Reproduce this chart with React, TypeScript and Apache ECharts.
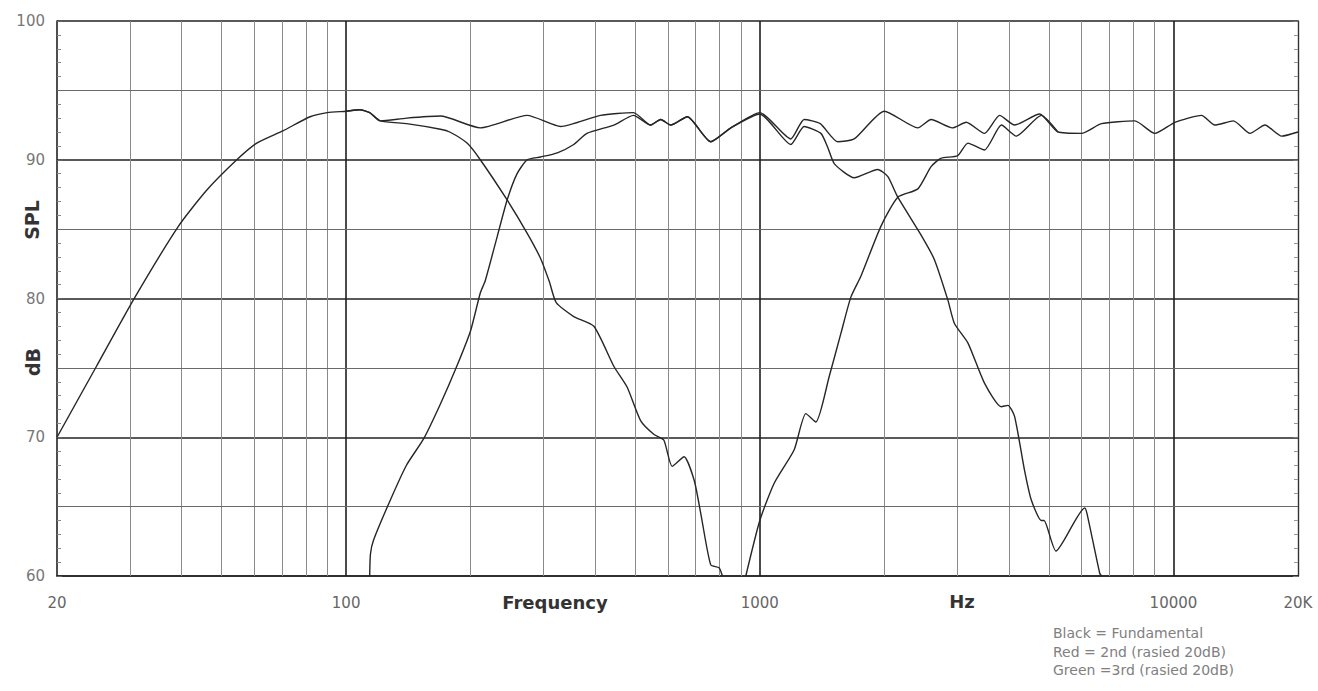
import React, { useEffect, useRef } from "react";
import * as echarts from "echarts";

// ---------- data ----------
const xTickLabels: Record<number, string> = { 20: "20", 100: "100", 1000: "1000", 10000: "10000", 20000: "20K" };
const yTickValues = [60, 70, 80, 90, 100];
const minorGridFreqs = [30, 40, 50, 60, 70, 80, 90, 200, 300, 400, 500, 600, 700, 800, 900, 2000, 3000, 4000, 5000, 6000, 7000, 8000, 9000];
const majorGridFreqs = [100, 1000, 10000];
const minorGridDb = [65, 75, 85, 95];

const wooferFreq = [20, 24.9, 30.6, 39.3, 46, 54.4, 60.8, 70.5, 81.8, 90, 100, 108, 114, 121, 140, 169, 178, 196, 211, 245, 274, 295, 310, 322, 355, 397, 444, 478, 515, 555, 586, 614, 656, 694, 720, 761, 797, 812];
const wooferDb = [70, 75.1, 79.9, 85.2, 87.8, 90, 91.2, 92.1, 93.1, 93.4, 93.5, 93.6, 93.4, 92.8, 92.6, 92.2, 92.0, 91.2, 90, 87.1, 84.7, 82.9, 81.2, 79.7, 78.7, 78.0, 75.1, 73.6, 71.2, 70.2, 69.8, 67.9, 68.6, 66.9, 64.5, 60.8, 60.6, 60];

const midFreq = [114, 114.5, 116.5, 128, 140, 154, 169, 185, 200, 211, 217, 232, 245, 259, 274, 295, 324, 355, 382, 444, 495, 544, 576, 609, 668, 761, 851, 1000, 1188, 1280, 1405, 1459, 1515, 1691, 1928, 2038, 2156, 2462, 2643, 2848, 2955, 3184, 3492, 3834, 3979, 4129, 4366, 4530, 4790, 4865, 5198, 6101, 6180, 6632, 6700];
const midDb = [60, 61.6, 62.6, 65.5, 68.0, 69.9, 72.4, 75.1, 77.7, 80.4, 81.3, 84.5, 87.1, 89.0, 90, 90.2, 90.5, 91.1, 91.9, 92.5, 93.2, 92.5, 92.9, 92.5, 93.1, 91.3, 92.3, 93.3, 91.1, 92.4, 91.9, 90.9, 89.7, 88.7, 89.3, 88.8, 87.3, 84.5, 82.8, 79.9, 78.2, 76.8, 73.9, 72.2, 72.3, 71.5, 67.6, 65.5, 64.0, 64.0, 61.8, 64.9, 64.5, 60.2, 60];

const tweeterFreq = [925, 1000, 1084, 1211, 1292, 1366, 1472, 1571, 1660, 1755, 1962, 2156, 2410, 2594, 2738, 3010, 3184, 3492, 3838, 4168, 4790, 5258];
const tweeterDb = [60, 64.0, 66.7, 69.1, 71.7, 71.1, 74.4, 77.5, 80.1, 81.6, 85.2, 87.3, 87.9, 89.5, 90.1, 90.3, 91.2, 90.7, 92.5, 91.7, 93.2, 92.0];

const sumFreq = [100, 108, 114, 121, 140, 169, 211, 274, 330, 412, 495, 544, 576, 609, 668, 761, 851, 1000, 1188, 1280, 1400, 1542, 1691, 2000, 2410, 2594, 2921, 3155, 3492, 3800, 4129, 4746, 5258, 5990, 6695, 8064, 9015, 10080, 11690, 12590, 13960, 15310, 16640, 18260, 20000];
const sumDb = [93.5, 93.6, 93.4, 92.8, 93.0, 93.15, 92.3, 93.2, 92.4, 93.2, 93.4, 92.5, 92.9, 92.5, 93.1, 91.3, 92.3, 93.4, 91.5, 92.9, 92.6, 91.3, 91.5, 93.5, 92.3, 92.9, 92.3, 92.7, 91.9, 93.2, 92.5, 93.3, 92.0, 91.9, 92.6, 92.8, 91.9, 92.7, 93.2, 92.5, 92.8, 91.9, 92.5, 91.7, 92.0];

const legendLines = ["Black = Fundamental", "Red = 2nd (rasied 20dB)", "Green =3rd (rasied 20dB)"];

const toPairs = (f: number[], d: number[]) => f.map((x, i) => [x, d[i]]);

export default function App() {
  const ref = useRef<HTMLDivElement>(null);
  useEffect(() => {
    document.body.style.margin = "0";
    const chart = echarts.init(ref.current!, null, { renderer: "svg" });
    const curveStyle = { color: "#262626", width: 1.4 };
    const curve = (name: string, f: number[], d: number[]) => ({
      name,
      type: "line",
      data: toPairs(f, d),
      showSymbol: false,
      symbol: "none",
      smooth: 0.2,
      z: 5,
      lineStyle: curveStyle,
    });
    const option = {
      animation: false,
      backgroundColor: "#ffffff",
      grid: { left: 57, right: 20, top: 21, bottom: 115 },
      xAxis: {
        type: "log",
        logBase: 10,
        min: 20,
        max: 20000,
        axisLine: { show: true, lineStyle: { color: "#222", width: 1.6 } },
        axisTick: { show: false },
        splitLine: { show: false },
        axisLabel: {
          showMinLabel: true,
          showMaxLabel: true,
          color: "#666",
          fontSize: 15,
          fontFamily: "DejaVu Sans",
          margin: 19,
          formatter: (v: number) => xTickLabels[Math.round(v)] ?? "",
        },
      },
      yAxis: [
        {
          type: "value",
          min: 60,
          max: 100,
          interval: 10,
          axisLine: { show: true, lineStyle: { color: "#222", width: 1.6 } },
          axisTick: { show: true, inside: true, length: 5, lineStyle: { color: "#666" } },
          minorTick: { show: true, splitNumber: 10, length: 4, lineStyle: { color: "#888" } },
          splitLine: { show: true, lineStyle: { color: "#222", width: 1.6 } },
          axisLabel: {
            color: "#777",
            fontSize: 15,
            fontFamily: "DejaVu Sans",
            margin: 12,
            formatter: (v: number) => (yTickValues.includes(v) ? String(v) : ""),
          },
        },
        {
          type: "value",
          position: "right",
          min: 60,
          max: 100,
          interval: 10,
          axisLine: { show: true, lineStyle: { color: "#333", width: 1.4 } },
          axisTick: { show: true, inside: true, length: 5, lineStyle: { color: "#777" } },
          minorTick: { show: true, splitNumber: 10, length: 4, lineStyle: { color: "#999" } },
          splitLine: { show: false },
          axisLabel: { show: false },
        },
      ],
      graphic: [
        { type: "text", x: 555, y: 602, style: { text: "Frequency", font: "bold 18px 'DejaVu Sans'", fill: "#333", textAlign: "center", textVerticalAlign: "middle" } },
        { type: "text", x: 962, y: 601, style: { text: "Hz", font: "bold 18px 'DejaVu Sans'", fill: "#333", textAlign: "center", textVerticalAlign: "middle" } },
        { type: "text", x: 32, y: 220, rotation: Math.PI / 2, style: { text: "SPL", font: "bold 19px 'DejaVu Sans'", fill: "#333", textAlign: "center", textVerticalAlign: "middle" } },
        { type: "text", x: 33, y: 362, rotation: Math.PI / 2, style: { text: "dB", font: "bold 19px 'DejaVu Sans'", fill: "#333", textAlign: "center", textVerticalAlign: "middle" } },
        ...legendLines.map((t, i) => ({
          type: "text",
          x: 1053,
          y: 633 + i * 18.5,
          style: { text: t, font: "14px 'DejaVu Sans'", fill: "#808080", textAlign: "left", textVerticalAlign: "middle" },
        })),
      ],
      series: [
        {
          name: "grid",
          type: "line",
          data: [],
          z: 1,
          silent: true,
          markLine: {
            silent: true,
            symbol: ["none", "none"],
            label: { show: false },
            animation: false,
            data: [
              ...minorGridFreqs.map((f) => ({ xAxis: f, lineStyle: { color: "#8a8a8a", width: 1, type: "solid" } })),
              ...majorGridFreqs.map((f) => ({ xAxis: f, lineStyle: { color: "#1e1e1e", width: 1.6, type: "solid" } })),
              ...minorGridDb.map((d) => ({ yAxis: d, lineStyle: { color: "#6a6a6a", width: 1.1, type: "solid" } })),
            ],
          },
        },
        curve("Sum", sumFreq, sumDb),
        curve("Woofer", wooferFreq, wooferDb),
        curve("Mid", midFreq, midDb),
        curve("Tweeter", tweeterFreq, tweeterDb),
      ],
    };
    chart.setOption(option as any);
    return () => chart.dispose();
  }, []);
  return <div ref={ref} style={{ width: 1318, height: 691 }} />;
}
